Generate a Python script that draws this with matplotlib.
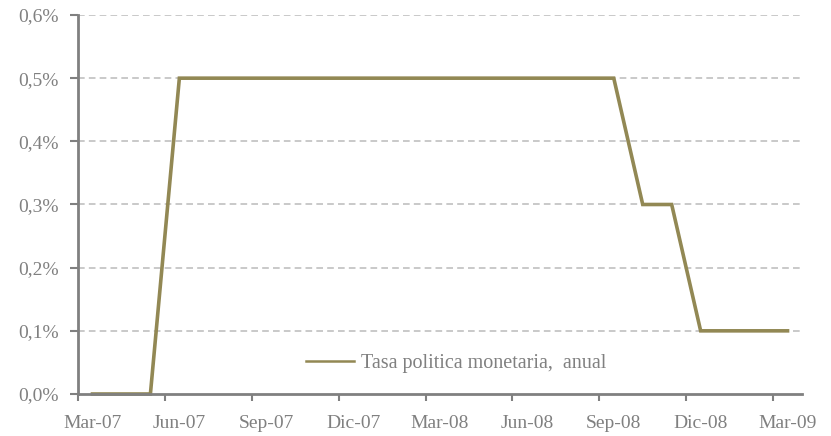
import matplotlib
matplotlib.use("Agg")
import matplotlib.pyplot as plt
from matplotlib.ticker import FixedLocator

months = ["Mar-07", "Abr-07", "May-07", "Jun-07", "Jul-07", "Ago-07", "Sep-07",
          "Oct-07", "Nov-07", "Dic-07", "Ene-08", "Feb-08", "Mar-08", "Abr-08",
          "May-08", "Jun-08", "Jul-08", "Ago-08", "Sep-08", "Oct-08", "Nov-08",
          "Dic-08", "Ene-09", "Feb-09", "Mar-09"]
tasa = [0.0, 0.0, 0.0, 0.5, 0.5, 0.5, 0.5, 0.5, 0.5, 0.5, 0.5, 0.5, 0.5,
        0.5, 0.5, 0.5, 0.5, 0.5, 0.5, 0.3, 0.3, 0.1, 0.1, 0.1, 0.1]
yticks = [0.0, 0.1, 0.2, 0.3, 0.4, 0.5, 0.6]
ylabels = ["0,0%", "0,1%", "0,2%", "0,3%", "0,4%", "0,5%", "0,6%"]

gray = "#808080"
plt.rcParams['font.family'] = ['Liberation Serif', 'DejaVu Serif']

fig = plt.figure(figsize=(8.31, 4.36), dpi=100)
ax = fig.add_axes([78/831, 1 - 394/436, (802-78)/831, (394-15)/436])

x = list(range(len(months)))
ax.plot(x, tasa, color="#928854", lw=2.6, label="Tasa politica monetaria,  anual",
        solid_joinstyle="miter", clip_on=False)

ax.set_xlim(-0.5, len(months) - 0.5)
ax.set_ylim(0, 0.6)

# tick marks on category boundaries, labels on the categories
ax.xaxis.set_major_locator(FixedLocator([i - 0.5 for i in range(0, len(months), 3)]))
ax.xaxis.set_major_formatter(plt.NullFormatter())
ax.xaxis.set_minor_locator(FixedLocator(x[::3]))
ax.set_xticklabels(months[::3], minor=True)
ax.tick_params(axis="x", which="major", length=5, width=1.5, color=gray, direction="out")
ax.tick_params(axis="x", which="minor", length=0, pad=15, labelsize=14, labelcolor=gray)

ax.set_yticks(yticks)
ax.set_yticklabels(ylabels)
ax.tick_params(axis="y", length=6, width=1.5, color=gray, labelsize=14, labelcolor=gray, pad=8)

for v in yticks[1:]:
    ax.axhline(v, color="#c0c0c0", lw=1.2, ls=(0, (4, 2.5)), zorder=0)

for s in ["top", "right"]:
    ax.spines[s].set_visible(False)
for s in ["left", "bottom"]:
    ax.spines[s].set_color(gray)
    ax.spines[s].set_linewidth(2)

leg = ax.legend(loc="center", frameon=False, fontsize=14.5, handlelength=2.4, handletextpad=0.35)
leg.set_bbox_to_anchor(((456-78)/724, (394-363)/379), transform=ax.transAxes)
for t in leg.get_texts():
    t.set_color(gray)
for l in leg.get_lines():
    l.set_linewidth(1.8)

fig.savefig("out.png", dpi=100)
